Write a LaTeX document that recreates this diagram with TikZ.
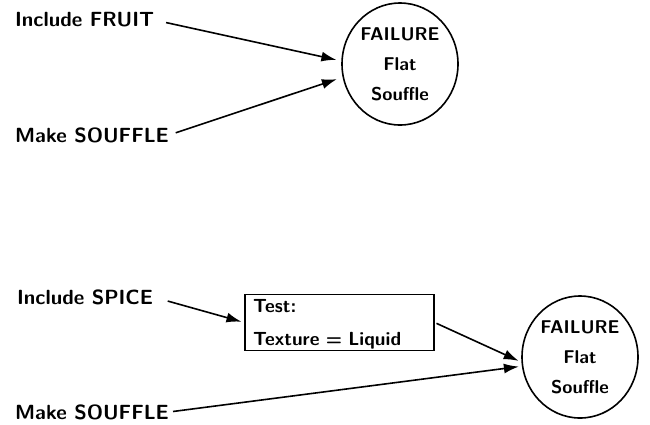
\documentclass[tikz,border=0pt]{standalone}
\usepackage{fontspec}
\usepackage{tikz}
\usetikzlibrary{arrows.meta,shapes.geometric}

\begin{document}
\begin{tikzpicture}[x=1pt, y=-1pt,
  lbl/.style={anchor=west, inner sep=0pt, font=\sffamily\bfseries\fontsize{20.5}{24}\selectfont},
  fail/.style={draw, ellipse, line width=1.6pt, minimum width=116pt, minimum height=122pt, inner sep=0pt,
    align=center, font=\sffamily\bfseries\fontsize{18.5}{30}\selectfont},
  testbox/.style={draw, line width=1.3pt, minimum width=189pt, minimum height=55pt, inner xsep=8pt, inner ysep=1pt,
    text width=173pt, align=left, font=\sffamily\bfseries\fontsize{19}{33}\selectfont},
  arr/.style={line width=1.6pt, -{Latex[length=15pt,width=10pt]}}]
  \useasboundingbox (0,0) rectangle (650,424);
  % first case
  \node[lbl] (fruit) at (15,20) {Include FRUIT};
  \node[lbl] (souffle1) at (15,135) {Make SOUFFLE};
  \node[fail] (fail1) at (400,64) {FAILURE\\Flat\\Souffle};
  \draw[arr, shorten <=12pt, shorten >=5pt] (fruit.east) -- (fail1.177);
  \draw[arr, shorten <=7pt, shorten >=6pt] (souffle1.east) -- (fail1.193);
  % second case
  \node[lbl] (spice) at (17,297) {Include SPICE};
  \node[lbl] (souffle2) at (15,412) {Make SOUFFLE};
  \node[testbox] (test) at (339.5,322.5) {\rule{0pt}{17pt}Test:\\Texture = Liquid};
  \node[fail] (fail2) at (580,357) {FAILURE\\Flat\\Souffle};
  \draw[arr, shorten <=15pt, shorten >=3pt] (spice.east) -- (test.west);
  \draw[arr, shorten <=2pt, shorten >=3pt] (test.east) -- (fail2.185);
  \draw[arr, shorten <=4pt, shorten >=3pt] (souffle2.east) -- (fail2.189);
\end{tikzpicture}
\end{document}
